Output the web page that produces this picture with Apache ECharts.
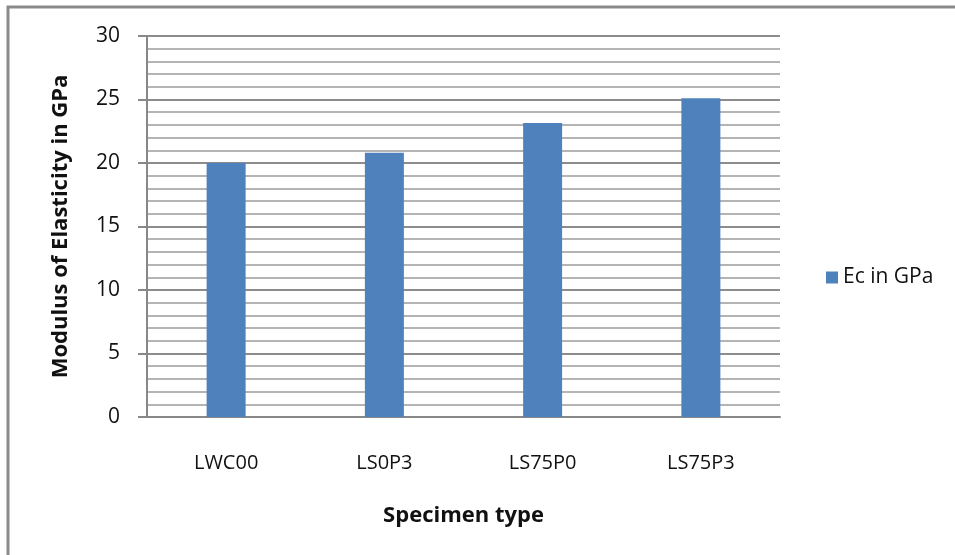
<!DOCTYPE html>
<html>
<head>
<meta charset="utf-8">
<script src="https://cdn.jsdelivr.net/npm/echarts@6/dist/echarts.min.js"></script>
<style>html,body{margin:0;padding:0;background:#fff}#c{width:955px;height:555px}</style>
</head>
<body>
<div id="c"></div>
<script>
const categories = ["LWC00", "LS0P3", "LS75P0", "LS75P3"];
const ecValues = [20.0, 20.8, 23.15, 25.1];
const seriesName = "Ec in GPa";
const yTitle = "Modulus of Elasticity in GPa";
const xTitle = "Specimen type";

const font = "'Open Sans', 'Liberation Sans', sans-serif";
const chart = echarts.init(document.getElementById('c'), null, {renderer: 'canvas'});
chart.setOption({
  animation: false,
  backgroundColor: '#fff',
  graphic: [{
    type: 'polyline',
    shape: {points: [[8, 560], [8, 7], [960, 7]]},
    style: {stroke: '#8a8a8a', lineWidth: 3, fill: null}
  }],
  grid: {left: 147, right: 175, top: 36, bottom: 138},
  legend: {
    left: 821, top: 'middle',
    orient: 'vertical',
    itemWidth: 12, itemHeight: 12, itemGap: 6,
    icon: 'rect',
    textStyle: {fontFamily: font, fontSize: 21, color: '#111'},
    data: [seriesName]
  },
  xAxis: {
    type: 'category',
    data: categories,
    axisLine: {lineStyle: {color: '#888', width: 2}},
    axisTick: {show: false},
    axisLabel: {fontFamily: font, fontSize: 20, color: '#111', margin: 36},
    name: xTitle,
    nameLocation: 'middle',
    nameGap: 88,
    nameTextStyle: {fontFamily: font, fontSize: 22, fontWeight: 'bold', color: '#111'}
  },
  yAxis: {
    type: 'value',
    min: 0, max: 30, interval: 5,
    axisLine: {show: true, lineStyle: {color: '#888', width: 2}},
    axisTick: {show: true, length: 9, lineStyle: {color: '#888', width: 2}},
    axisLabel: {fontFamily: font, fontSize: 21, color: '#111', margin: 27},
    splitLine: {show: true, lineStyle: {color: '#8c8c8c', width: 2}},
    minorTick: {show: false, splitNumber: 5},
    minorSplitLine: {show: true, lineStyle: {color: '#b4b4b4', width: 2}},
    name: yTitle,
    nameLocation: 'middle',
    nameGap: 75,
    nameTextStyle: {fontFamily: font, fontSize: 22, fontWeight: 'bold', color: '#111'}
  },
  series: [{
    name: seriesName,
    type: 'bar',
    data: ecValues,
    barWidth: 39,
    itemStyle: {color: '#4F81BD'}
  }]
});
</script>
</body>
</html>
